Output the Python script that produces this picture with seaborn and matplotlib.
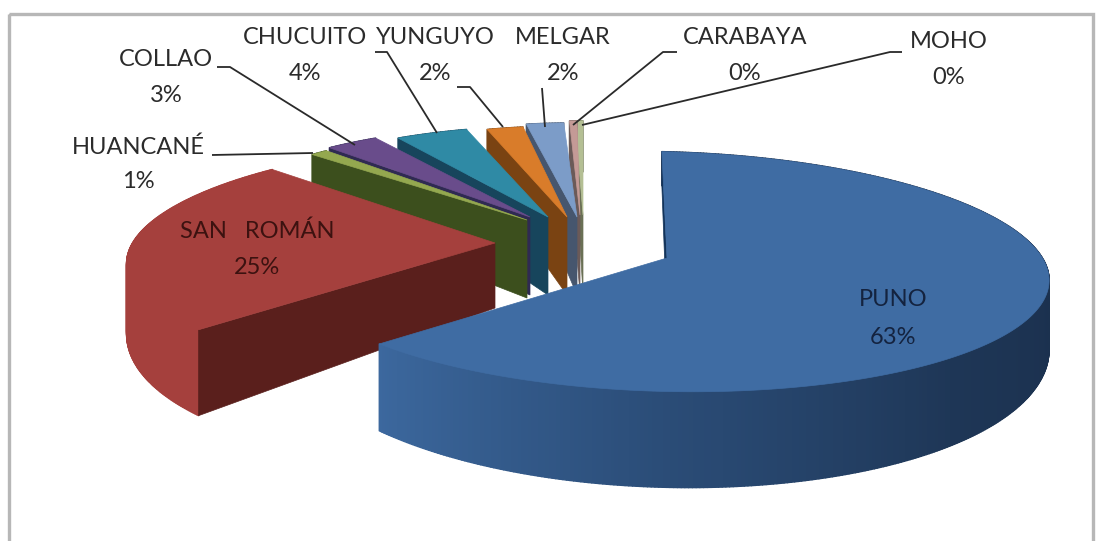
import numpy as np
import matplotlib
matplotlib.use("Agg")
import matplotlib.pyplot as plt
from matplotlib.collections import PolyCollection
from matplotlib.colors import LinearSegmentedColormap
from matplotlib.patches import Polygon, Rectangle
import seaborn as sns

# ---- data ----
names = ["PUNO", "SAN   ROMÁN", "HUANCANÉ", "COLLAO", "CHUCUITO",
         "YUNGUYO", "MELGAR", "CARABAYA", "MOHO"]
shares = [63, 25, 1, 3, 4, 2, 2, 0.4, 0.4]
pct_labels = ["63%", "25%", "1%", "3%", "4%", "2%", "2%", "0%", "0%"]

# ---- styles ----
top_cols = ["#3f6ca3", "#a5403d", "#94a84f", "#694c8b", "#2f8aa5",
            "#d97c2a", "#7c9cc8", "#c49a96", "#b4bf94"]
side_cols = ["#12335a", "#5a1f1c", "#3c4f1d", "#2f2a52", "#17455c",
             "#7a4312", "#46566e", "#6b5a58", "#6a7055"]
arc_cols = [None, "#a5403d", None, None, None, None, None, None, None]
# per-slice explosion (pixel offset of each slice tip), radius, depth and view distortion
tip_x = [667, 495, 527, 530, 548, 567, 577, 580, 583]
tip_y = [258, 243, 220, 217, 217, 217, 217, 215, 215]
radius_f = [1.03, .985, .87, .87, .87, .87, .9, .9, .9]
depth_0 = [65, 65, 78, 78, 78, 78, 78, 78, 78]
shear = [5, -27, 0, 0, -6, -8, -2, -5, 0]
tilt = [7, 0, 0, 0, 0, 0, 0, 0, 0]
RX, RY, K = 368, 115, 0.11

lab_x = [893, 257, 138, 166, 305, 435, 563, 745, 949]
lab_y = [300, 231, 147, 60, 37, 37, 37, 37, 42]
lab_gap = [37, 37, 35, 35, 36, 36, 36, 36, 35]
leaders = [
    None, None,
    [(212, 155), (313, 153)],
    [(217, 67), (230, 67), (355, 145)],
    [(375, 52), (387, 52), (437, 133)],
    [(457, 87), (470, 87), (503, 127)],
    [(542, 88), (545, 127)],
    [(677, 52), (663, 52), (573, 125)],
    [(902, 52), (890, 52), (582, 125)],
]

sns.set_theme(style="white")
plt.rcParams["font.family"] = ["Lato", "DejaVu Sans"]
fig = plt.figure(figsize=(10.96, 5.41), dpi=100)
ax = fig.add_axes([0, 0, 1, 1])
ax.set_xlim(0, 1096)
ax.set_ylim(541, 0)
ax.axis("off")

ax.add_patch(Rectangle((9, 14), 1084, 560, fill=False, ec="#b7b7b7", lw=2.4))

fr = np.asarray(shares, float)
edges = np.concatenate([[0], np.cumsum(fr / fr.sum() * 360)])


def project(theta, i):
    t = np.radians(theta)
    f = radius_f[i]
    u, v = f * np.sin(t), -f * np.cos(t)
    d = 1 - K * v
    return (tip_x[i] + RX * u / d + shear[i] * v,
            tip_y[i] + RY * v / d + tilt[i] * u, v)


def depth(v, i):
    return depth_0[i] + 30 * v


blue_wall = LinearSegmentedColormap.from_list(
    "w", ["#1a2f4c", "#1e3656", "#2b4d78", "#3c689e"])

order = [8, 7, 6, 5, 4, 3, 2, 1, 0]
z = 2
for i in order:
    a, b = edges[i], edges[i + 1]
    th = np.linspace(a, b, max(int((b - a) * 2), 6))
    x, y, v = project(th, i)
    # outer wall
    dd = depth(v, i)
    quads = [[(x[j], y[j]), (x[j + 1], y[j + 1]),
              (x[j + 1], y[j + 1] + dd[j + 1]), (x[j], y[j] + dd[j])]
             for j in range(len(x) - 1)]
    if i == 0:
        cols = blue_wall(np.clip((th[:-1] - 85) / (b - 85), 0, 1) ** 1.1)
    else:
        cols = arc_cols[i] or side_cols[i]
    pc = PolyCollection(quads, facecolors=cols, edgecolors=cols, linewidths=1.0, zorder=z)
    ax.add_collection(pc)
    # flat cut side, from the tip to the first corner
    d_tip = depth_0[i]
    side = [(tip_x[i], tip_y[i]), (x[0], y[0]), (x[0], y[0] + dd[0]),
            (tip_x[i], tip_y[i] + d_tip)]
    ax.add_patch(Polygon(side, closed=True, fc=side_cols[i], ec=side_cols[i],
                         lw=.5, zorder=z + .1))
    # top face
    top = [(tip_x[i], tip_y[i])] + list(zip(x, y))
    ax.add_patch(Polygon(top, closed=True, fc=top_cols[i], ec=top_cols[i],
                         lw=.5, zorder=z + .2))
    z += 1

text_col = "#2b2b2b"
for i, nm in enumerate(names):
    col = {0: "#14233f", 1: "#3c1210"}.get(i, text_col)
    ax.text(lab_x[i], lab_y[i], nm, ha="center", va="center", fontsize=17,
            color=col, zorder=30)
    ax.text(lab_x[i], lab_y[i] + lab_gap[i], pct_labels[i], ha="center", va="center",
            fontsize=17, color=col, zorder=30)
    if leaders[i]:
        lx, ly = zip(*leaders[i])
        ax.plot(lx, ly, color="#2a2a2a", lw=1.3, zorder=31, solid_capstyle="butt")

fig.savefig("out.png", dpi=100)
